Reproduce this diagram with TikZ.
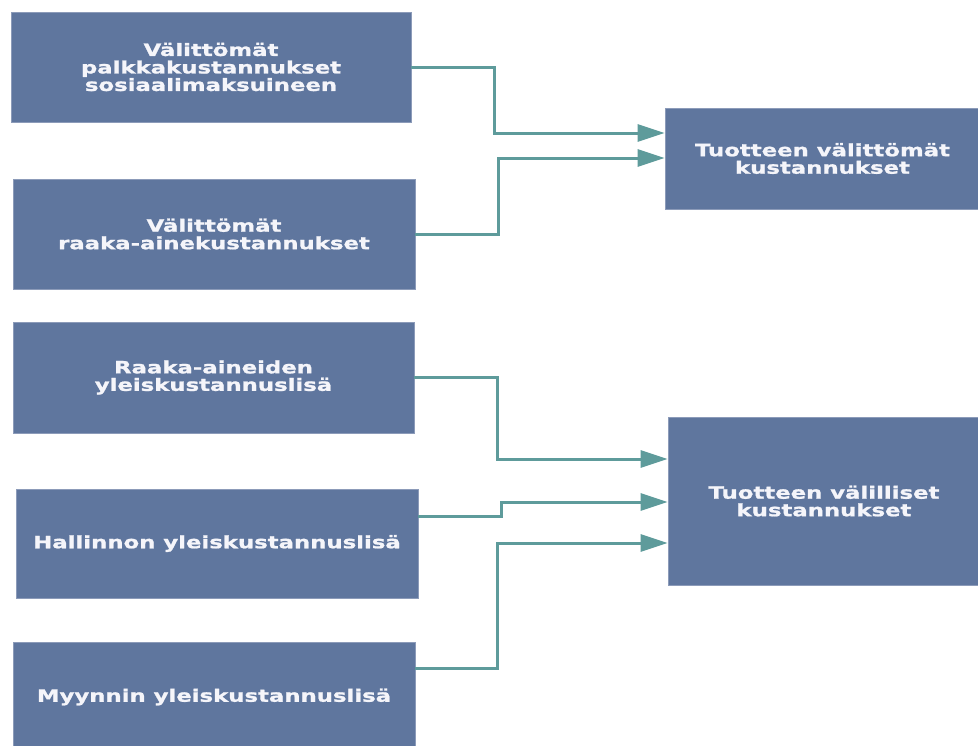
\documentclass[tikz,border=0pt]{standalone}
\usepackage{fontspec}
\newfontfamily\boxfont{DejaVu Sans}[FakeStretch=1.34,FakeBold=1.2]
\usetikzlibrary{arrows.meta}
\definecolor{boxblue}{RGB}{95,118,158}
\definecolor{boxedge}{RGB}{140,155,185}
\definecolor{conncol}{RGB}{94,155,155}
\definecolor{txtcol}{RGB}{245,245,250}
\tikzset{
  costbox/.style={rectangle, fill=boxblue, draw=boxedge, line width=0.8pt,
    inner sep=0pt, align=center, text=txtcol,
    font=\boxfont\bfseries\fontsize{17}{17.5}\selectfont},
  conn/.style={draw=conncol, line width=3pt,
    -{Triangle[length=27pt,width=17pt,fill=conncol]}},
}
\begin{document}
\begin{tikzpicture}[x=1pt,y=-1pt]
\useasboundingbox (0,0) rectangle (978,745);
\clip (0,0) rectangle (978,745);
\fill[white] (0,0) rectangle (978,745);
\node[costbox, minimum width=400pt, minimum height=110pt] (b1) at (211,67) {Välittömät\\palkkakustannukset\\sosiaalimaksuineen};
\node[costbox, minimum width=402pt, minimum height=110pt] (b2) at (214,234) {Välittömät\\raaka-ainekustannukset};
\node[costbox, minimum width=401pt, minimum height=111pt] (b3) at (213.5,377.5) {Raaka-aineiden\\yleiskustannuslisä};
\node[costbox, minimum width=402pt, minimum height=109pt] (b4) at (217,543.5) {Hallinnon yleiskustannuslisä};
\node[costbox, minimum width=402pt, minimum height=110pt] (b5) at (214,697) {Myynnin yleiskustannuslisä};
\node[costbox, minimum width=315pt, minimum height=101pt] (r1) at (822.5,158.5) {Tuotteen välittömät\\kustannukset};
\node[costbox, minimum width=312pt, minimum height=168pt] (r2) at (824,501) {Tuotteen välilliset\\kustannukset};
% elbow points
\coordinate (j1) at (494,133);
\coordinate (j2) at (498,158);
\coordinate (j3) at (497,459);
\coordinate (j4s) at (0,516);
\coordinate (j4a) at (501,516);
\coordinate (j4) at (501,502);
\coordinate (j5) at (497,543);
\draw[conn] (b1.east) -| (j1) -- (j1 -| r1.west);
\draw[conn] (b2.east) -| (j2) -- (j2 -| r1.west);
\draw[conn] (b3.east) -| (j3) -- (j3 -| r2.west);
\draw[conn] (b4.east |- j4s) -- (j4a) -- (j4) -- (j4 -| r2.west);
\draw[conn] (b5.east |- 0,668) -| (j5) -- (j5 -| r2.west);
\end{tikzpicture}
\end{document}
